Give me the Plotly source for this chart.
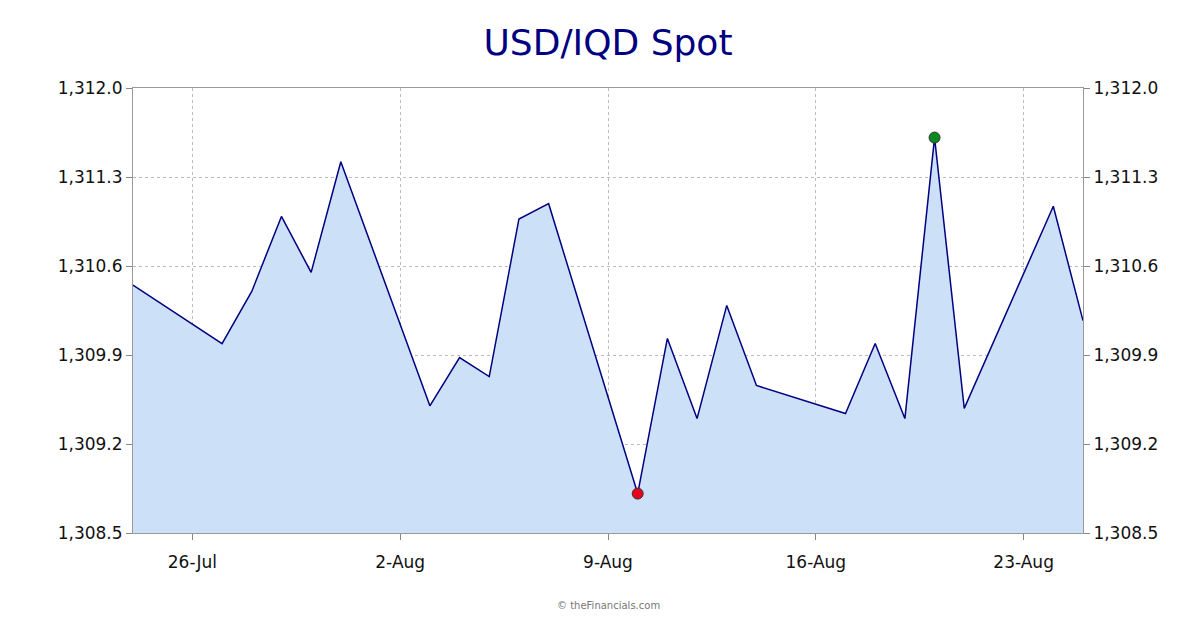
import plotly.graph_objects as go

dates = ["2021-07-24","2021-07-27","2021-07-28","2021-07-29","2021-07-30","2021-07-31",
         "2021-08-03","2021-08-04","2021-08-05","2021-08-06","2021-08-07",
         "2021-08-10","2021-08-11","2021-08-12","2021-08-13","2021-08-14",
         "2021-08-17","2021-08-18","2021-08-19","2021-08-20","2021-08-21",
         "2021-08-24","2021-08-25"]
values = [1310.45,1309.99,1310.40,1310.99,1310.55,1311.42,
          1309.50,1309.88,1309.73,1310.97,1311.09,
          1308.81,1310.03,1309.40,1310.29,1309.66,
          1309.44,1309.99,1309.40,1311.61,1309.48,
          1311.07,1310.17]
tick_dates = ["2021-07-26","2021-08-02","2021-08-09","2021-08-16","2021-08-23"]
tick_labels = ["26-Jul","2-Aug","9-Aug","16-Aug","23-Aug"]
y_ticks = [1308.5,1309.2,1309.9,1310.6,1311.3,1312.0]
y_labels = ["1,308.5","1,309.2","1,309.9","1,310.6","1,311.3","1,312.0"]

imin = values.index(min(values)); imax = values.index(max(values))

fig = go.Figure()
fig.add_trace(go.Scatter(x=dates, y=values, mode="lines", fill="tozeroy",
                         fillcolor="#cce0f7", line=dict(color="#000080", width=1.5),
                         hoverinfo="skip"))
fig.add_trace(go.Scatter(x=[dates[imin]], y=[values[imin]], mode="markers",
                         marker=dict(color="#e8001c", size=11, line=dict(color="#333", width=1))))
fig.add_trace(go.Scatter(x=[dates[imax]], y=[values[imax]], mode="markers",
                         marker=dict(color="#0a8a1e", size=11, line=dict(color="#333", width=1))))
fig.add_trace(go.Scatter(x=[dates[0]], y=[values[0]], yaxis="y2", mode="markers",
                         marker=dict(opacity=0), hoverinfo="skip"))

axfont = dict(family="DejaVu Sans", size=17, color="#111")
fig.update_layout(
    width=1200, height=630, showlegend=False,
    paper_bgcolor="white", plot_bgcolor="white",
    margin=dict(l=125, r=125, t=80, b=105, autoexpand=False),
    title=dict(text="USD/IQD Spot", x=0.5, y=0.965, yanchor="top",
               font=dict(family="DejaVu Sans", size=36, color="#000080")),
    font=axfont,
    xaxis=dict(range=["2021-07-24","2021-08-25"], tickvals=tick_dates, ticktext=tick_labels,
               showgrid=True, gridcolor="#bbbbbb", griddash="dot", ticks="outside",
               ticklen=6, tickcolor="#888", showline=True, linecolor="#999", mirror=True,
               tickfont=axfont, automargin=False, ticklabelstandoff=8),
    yaxis=dict(range=[1308.5,1312.0], tickvals=y_ticks, ticktext=y_labels,
               showgrid=True, gridcolor="#bbbbbb", griddash="dot", ticks="outside",
               ticklen=6, tickcolor="#888", showline=True, linecolor="#999", tickfont=axfont,
               automargin=False),
    yaxis2=dict(range=[1308.5,1312.0], tickvals=y_ticks, ticktext=y_labels, overlaying="y",
                side="right", showgrid=False, ticks="outside", ticklen=6, tickcolor="#888",
                showline=True, linecolor="#999", tickfont=axfont, automargin=False),
    annotations=[dict(text="© theFinancials.com", xref="paper", yref="paper", x=0.5, y=-0.18,
                      showarrow=False, font=dict(family="DejaVu Sans", size=10, color="#777"))],
)
fig.write_html("out.html")
